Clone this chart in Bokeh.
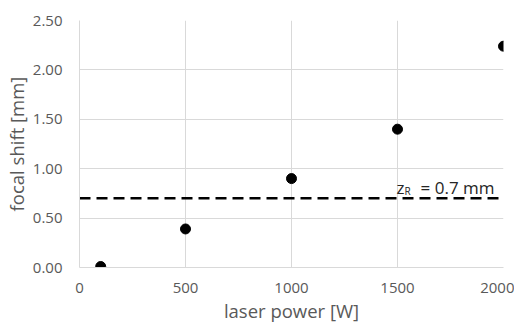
from bokeh.plotting import figure
from bokeh.models import Range1d, FixedTicker, NumeralTickFormatter, Label, Title
from bokeh.embed import file_html
from bokeh.resources import INLINE

power = [100, 500, 1000, 1500, 2000]
shift = [0.01, 0.39, 0.90, 1.40, 2.24]
zr = 0.7
zr_x = [0, 2000]
x_ticks = [0, 500, 1000, 1500, 2000]
y_ticks = [0.0, 0.5, 1.0, 1.5, 2.0, 2.5]
x_title = "laser power [W]"
y_title = "focal shift [mm]"

FONT = "Open Sans"
GRAY = "#595959"

p = figure(width=514, height=322, output_backend="svg", toolbar_location=None,
           x_range=Range1d(0, 2000), y_range=Range1d(0, 2.5),
           min_border_left=79, min_border_right=11, min_border_top=20, min_border_bottom=0)
p.outline_line_color = None
p.background_fill_color = "white"
p.border_fill_color = "white"

for ax in (p.xaxis, p.yaxis):
    ax.axis_line_color = "#d9d9d9"
    ax.major_tick_line_color = None
    ax.minor_tick_line_color = None
    ax.major_label_text_font = FONT
    ax.major_label_text_font_size = "15px"
    ax.major_label_text_color = GRAY
    ax.axis_label_text_font = FONT
    ax.axis_label_text_font_size = "18.5px"
    ax.axis_label_text_color = GRAY
    ax.axis_label_text_font_style = "normal"
    ax.axis_label_text_line_height = 1.0
    ax.major_label_text_line_height = 1.0

p.xaxis.ticker = FixedTicker(ticks=x_ticks)
p.yaxis.ticker = FixedTicker(ticks=y_ticks)
p.yaxis.formatter = NumeralTickFormatter(format="0.00")
p.yaxis.axis_label = y_title
p.xaxis.major_label_standoff = 9
p.yaxis.major_label_standoff = 11
p.yaxis.axis_label_standoff = 1

p.xgrid.grid_line_color = "#d9d9d9"
p.ygrid.grid_line_color = "#d9d9d9"

p.line(zr_x, [zr, zr], line_color="black", line_width=2.5, line_dash="11 6")
p.scatter(power, shift, size=10, marker="circle", fill_color="black", line_color="black")

xt = Title(text=x_title, align="center", text_font=FONT, text_font_size="18.5px",
           text_color=GRAY, text_font_style="normal", standoff=0, offset=0,
           text_line_height=1.0)
p.add_layout(xt, "below")

p.add_layout(Label(x=1505, y=zr, x_offset=-2, y_offset=11, text="z", text_font=FONT,
                   text_baseline="alphabetic", text_font_size="17px", text_color="#262626"))
p.add_layout(Label(x=1505, y=zr, x_offset=6, y_offset=7, text="R", text_font=FONT,
                   text_baseline="alphabetic", text_font_size="10px", text_color="#262626"))
p.add_layout(Label(x=1505, y=zr, x_offset=22, y_offset=11, text="= 0.7 mm", text_font=FONT,
                   text_baseline="alphabetic", text_font_size="17px", text_color="#262626"))

open("out.html", "w").write(file_html(p, INLINE))
